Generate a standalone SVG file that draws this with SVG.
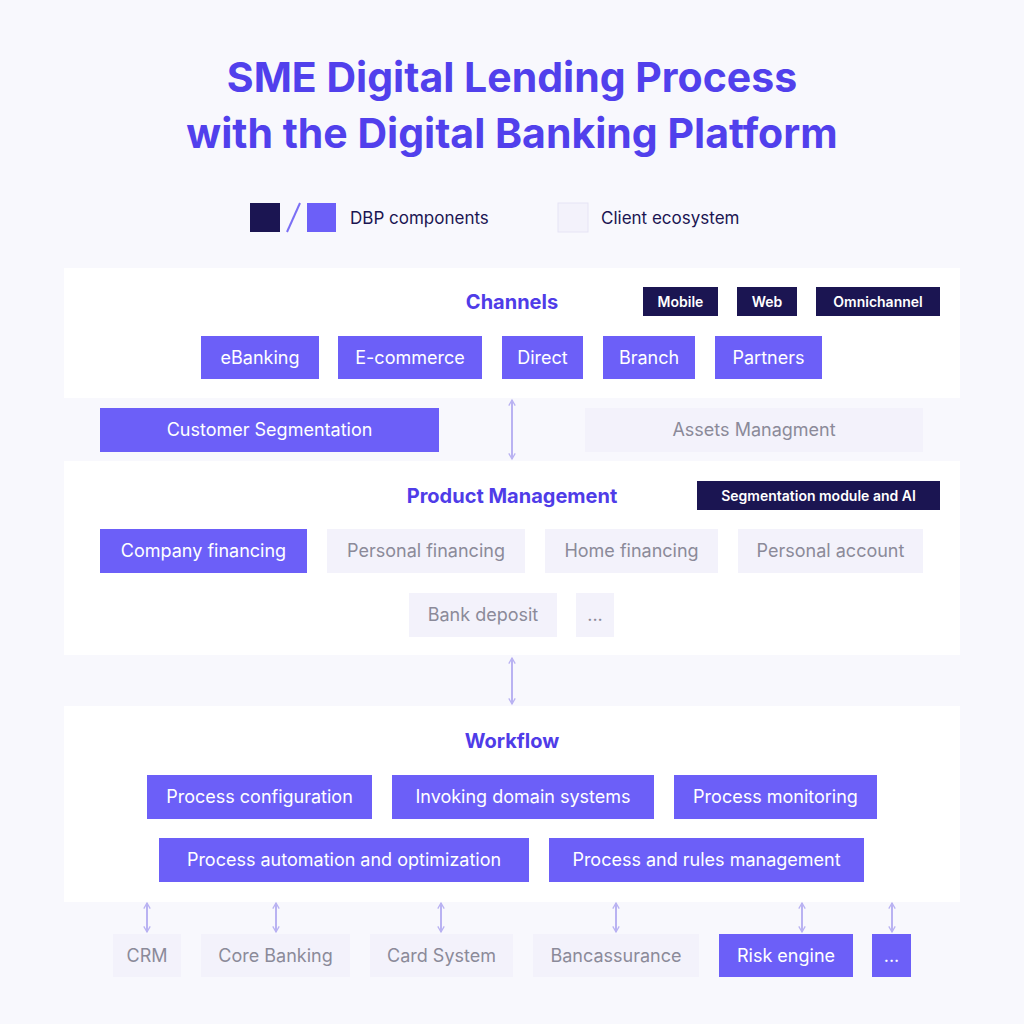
<svg xmlns="http://www.w3.org/2000/svg" width="1024" height="1024" viewBox="0 0 1024 1024">
<style>
text{font-family:Inter,"Noto Sans","Liberation Sans",sans-serif;text-anchor:middle}
.title{font-size:41px;font-weight:700;fill:#5140ec}
.h{font-size:20px;font-weight:700;fill:#4f3ce8}
.panel{fill:#ffffff}
.p{fill:#6c5ff8}.pt{fill:#ffffff;font-size:18px}
.g{fill:#f3f2fb}.gt{fill:#8b8a99;font-size:18px}
.d{fill:#1b1552}.dt{fill:#ffffff;font-size:14px;font-weight:600}
.lt{fill:#1b1552;font-size:17px;text-anchor:start}
.c{stroke:#b9b2f2;stroke-width:2;fill:none}
</style>
<defs>
<marker id="ah" viewBox="0 0 10 10" refX="8" refY="5" markerWidth="8" markerHeight="8" orient="auto-start-reverse" markerUnits="userSpaceOnUse"><path d="M1,1 L8,5 L1,9" fill="none" stroke="#b9b2f2" stroke-width="1.6"/></marker>
</defs>
<rect width="1024" height="1024" fill="#f8f8fd"/>
<text class="title" x="512" y="92">SME Digital Lending Process</text>
<text class="title" x="512" y="148">with the Digital Banking Platform</text>
<g id="legend">
<rect x="250" y="203" width="30" height="29" class="d"/>
<line x1="287" y1="232" x2="300" y2="203" stroke="#7b6ff5" stroke-width="2"/>
<rect x="307" y="203" width="29" height="29" class="p"/>
<text class="lt" x="350" y="224">DBP components</text>
<rect x="558" y="203" width="30" height="29" fill="#f3f2fb" stroke="#e6e4f5"/>
<text class="lt" x="601" y="224">Client ecosystem</text>
</g>
<g id="channels">
<rect class="panel" x="64" y="268" width="896" height="130"/>
<text class="h" x="512" y="309">Channels</text>
<rect class="d" x="643" y="287" width="75" height="29"/><text class="dt" x="680.5" y="306.5">Mobile</text>
<rect class="d" x="737" y="287" width="60" height="29"/><text class="dt" x="767" y="306.5">Web</text>
<rect class="d" x="816" y="287" width="124" height="29"/><text class="dt" x="878" y="306.5">Omnichannel</text>
<rect class="p" x="201" y="336" width="118" height="43"/><text class="pt" x="260" y="364">eBanking</text>
<rect class="p" x="338" y="336" width="144" height="43"/><text class="pt" x="410" y="364">E-commerce</text>
<rect class="p" x="502" y="336" width="81" height="43"/><text class="pt" x="542.5" y="364">Direct</text>
<rect class="p" x="603" y="336" width="92" height="43"/><text class="pt" x="649" y="364">Branch</text>
<rect class="p" x="715" y="336" width="107" height="43"/><text class="pt" x="768.5" y="364">Partners</text>
</g>
<g id="segmentation">
<rect class="p" x="100" y="408" width="339" height="44"/><text class="pt" x="269.5" y="436">Customer Segmentation</text>
<rect class="g" x="585" y="408" width="338" height="44"/><text class="gt" x="754" y="436">Assets Managment</text>
</g>
<g id="product-management">
<rect class="panel" x="64" y="461" width="896" height="194"/>
<text class="h" x="512" y="503">Product Management</text>
<rect class="d" x="697" y="481" width="243" height="29"/><text class="dt" x="818.5" y="500.5">Segmentation module and AI</text>
<rect class="p" x="100" y="529" width="207" height="44"/><text class="pt" x="203.5" y="557">Company financing</text>
<rect class="g" x="327" y="529" width="198" height="44"/><text class="gt" x="426" y="557">Personal financing</text>
<rect class="g" x="545" y="529" width="173" height="44"/><text class="gt" x="631.5" y="557">Home financing</text>
<rect class="g" x="738" y="529" width="185" height="44"/><text class="gt" x="830.5" y="557">Personal account</text>
<rect class="g" x="409" y="593" width="148" height="44"/><text class="gt" x="483" y="621">Bank deposit</text>
<rect class="g" x="576" y="593" width="38" height="44"/><text class="gt" x="595" y="621">...</text>
</g>
<g id="workflow">
<rect class="panel" x="64" y="706" width="896" height="196"/>
<text class="h" x="512" y="748">Workflow</text>
<rect class="p" x="147" y="775" width="225" height="44"/><text class="pt" x="259.5" y="803">Process configuration</text>
<rect class="p" x="392" y="775" width="262" height="44"/><text class="pt" x="523" y="803">Invoking domain systems</text>
<rect class="p" x="674" y="775" width="203" height="44"/><text class="pt" x="775.5" y="803">Process monitoring</text>
<rect class="p" x="159" y="838" width="370" height="44"/><text class="pt" x="344" y="866">Process automation and optimization</text>
<rect class="p" x="549" y="838" width="315" height="44"/><text class="pt" x="706.5" y="866">Process and rules management</text>
</g>
<g id="systems">
<rect class="g" x="113" y="934" width="68" height="43"/><text class="gt" x="147" y="962">CRM</text>
<rect class="g" x="201" y="934" width="149" height="43"/><text class="gt" x="275.5" y="962">Core Banking</text>
<rect class="g" x="370" y="934" width="143" height="43"/><text class="gt" x="441.5" y="962">Card System</text>
<rect class="g" x="533" y="934" width="166" height="43"/><text class="gt" x="616" y="962">Bancassurance</text>
<rect class="p" x="719" y="934" width="134" height="43"/><text class="pt" x="786" y="962">Risk engine</text>
<rect class="p" x="872" y="934" width="39" height="43"/><text class="pt" x="891.5" y="962">...</text>
</g>
<g id="connectors">
<line class="c" x1="512" y1="400" x2="512" y2="459" marker-start="url(#ah)" marker-end="url(#ah)"/>
<line class="c" x1="512" y1="658" x2="512" y2="704" marker-start="url(#ah)" marker-end="url(#ah)"/>
<line class="c" x1="147" y1="903" x2="147" y2="932" marker-start="url(#ah)" marker-end="url(#ah)"/>
<line class="c" x1="276" y1="903" x2="276" y2="932" marker-start="url(#ah)" marker-end="url(#ah)"/>
<line class="c" x1="441" y1="903" x2="441" y2="932" marker-start="url(#ah)" marker-end="url(#ah)"/>
<line class="c" x1="616" y1="903" x2="616" y2="932" marker-start="url(#ah)" marker-end="url(#ah)"/>
<line class="c" x1="802" y1="903" x2="802" y2="932" marker-start="url(#ah)" marker-end="url(#ah)"/>
<line class="c" x1="892" y1="903" x2="892" y2="932" marker-start="url(#ah)" marker-end="url(#ah)"/>
</g>
</svg>
